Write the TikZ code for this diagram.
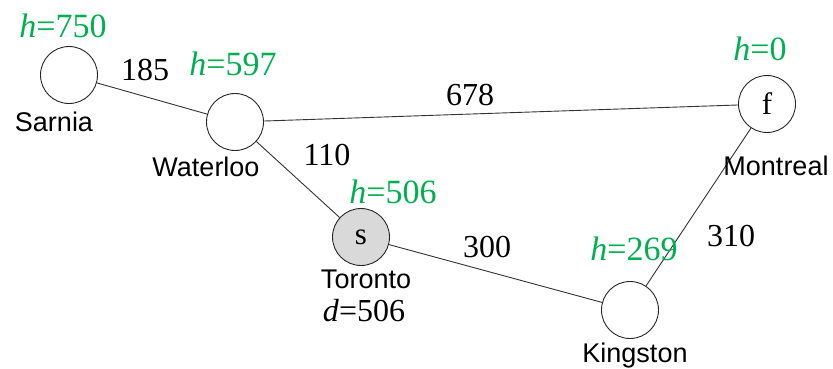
\documentclass[tikz,border=0pt]{standalone}
\usepackage{fontspec}
\setmainfont{Liberation Serif}
\setsansfont{Liberation Sans}
\definecolor{hgreen}{RGB}{0,176,80}
\definecolor{startfill}{RGB}{217,217,217}
\begin{document}
\begin{tikzpicture}[x=1pt,y=-1pt,
  city/.style={circle,draw=black!85,line width=0.9pt,minimum size=57pt,inner sep=0pt,fill=white,
    font=\fontsize{31}{31}\selectfont},
  road/.style={draw=black!80,line width=0.9pt},
  cost/.style={inner sep=0pt,font=\fontsize{32}{32}\selectfont},
  heur/.style={inner sep=0pt,text=hgreen,font=\fontsize{34}{34}\selectfont},
  cname/.style={inner sep=0pt,font=\sffamily\fontsize{27}{27}\selectfont}]
  \useasboundingbox (0,0) rectangle (833,368);

  % cities
  \node[city] (sar) at (69,75) {};
  \node[city] (wat) at (235,122) {};
  \node[city,fill=startfill] (tor) at (361,237) {s};
  \node[city] (mon) at (767,104) {f};
  \node[city] (kin) at (630,310) {};

  % roads
  \draw[road] (sar) -- (wat);
  \draw[road] (wat) -- (mon);
  \draw[road] (wat) -- (tor);
  \draw[road] (tor) -- (kin);
  \draw[road] (kin) -- (mon);

  % road lengths
  \node[cost] (c1) at (145,70) {185};
  \node[cost] (c2) at (470,95) {678};
  \node[cost] (c3) at (327,155) {110};
  \node[cost] (c4) at (487,247) {300};
  \node[cost] (c5) at (731,236) {310};

  % city names
  \node[cname] (n1) at (54,122) {Sarnia};
  \node[cname] (n2) at (206,167) {Waterloo};
  \node[cname] (n3) at (366,279) {Toronto};
  \node[cname] (n4) at (776,166) {Montreal};
  \node[cname] (n5) at (635,356) {Kingston};

  % heuristic values
  \node[heur] (h1) at (63,26) {\textit{h}=750};
  \node[heur] (h2) at (233,64) {\textit{h}=597};
  \node[heur] (h3) at (393,192) {\textit{h}=506};
  \node[heur] (h4) at (760,49) {\textit{h}=0};
  \node[heur] (h5) at (634,249) {\textit{h}=269};

  % distance at the start
  \node[cost] (d0) at (364,311) {\textit{d}=506};
\end{tikzpicture}
\end{document}
